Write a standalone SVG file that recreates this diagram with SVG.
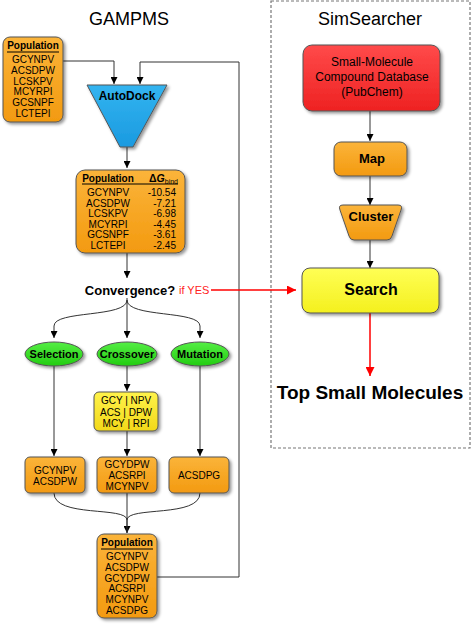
<svg xmlns="http://www.w3.org/2000/svg" width="472" height="626" viewBox="0 0 472 626">
<defs>
<linearGradient id="gOr" x1="0" y1="0" x2="0" y2="1"><stop offset="0" stop-color="#fbb43a"/><stop offset="1" stop-color="#f39a10"/></linearGradient>
<linearGradient id="gGr" x1="0" y1="0" x2="0" y2="1"><stop offset="0" stop-color="#55ee44"/><stop offset="1" stop-color="#22cc11"/></linearGradient>
<linearGradient id="gYe" x1="0" y1="0" x2="0" y2="1"><stop offset="0" stop-color="#fff34a"/><stop offset="1" stop-color="#f2d81a"/></linearGradient>
<linearGradient id="gYe2" x1="0" y1="0" x2="0" y2="1"><stop offset="0" stop-color="#ffff55"/><stop offset="1" stop-color="#f4f01e"/></linearGradient>
<linearGradient id="gRe" x1="0" y1="0" x2="0" y2="1"><stop offset="0" stop-color="#ff4a4a"/><stop offset="1" stop-color="#ee2222"/></linearGradient>
<linearGradient id="gBl" x1="0" y1="0" x2="0" y2="1"><stop offset="0" stop-color="#33b4f0"/><stop offset="1" stop-color="#1a9ae0"/></linearGradient>
<filter id="sh" x="-20%" y="-20%" width="150%" height="150%"><feDropShadow dx="2" dy="2" stdDeviation="1.5" flood-color="#000" flood-opacity="0.4"/></filter>
<marker id="ak" viewBox="0 0 10 10" refX="10" refY="5" markerWidth="7" markerHeight="7" orient="auto" markerUnits="userSpaceOnUse"><path d="M0,0 L10,5 L0,10 z" fill="#000"/></marker>
<marker id="ar" viewBox="0 0 10 10" refX="10" refY="5" markerWidth="9" markerHeight="9" orient="auto" markerUnits="userSpaceOnUse"><path d="M0,0 L10,5 L0,10 z" fill="#ff0000"/></marker>
<style>
text{font-family:"Liberation Sans",Arial,sans-serif;fill:#000}
.t{font-size:10px;text-anchor:middle}
.v{font-size:10px;text-anchor:end}
.h{font-size:10px;font-weight:bold;text-anchor:middle}
.e{font-size:11px;font-weight:bold;text-anchor:middle}
.sn{stroke:#555;stroke-width:1}
.ln{fill:none;stroke:#333;stroke-width:1}
.rl{fill:none;stroke:#ff0000;stroke-width:1.5}
</style>
</defs>
<rect x="271" y="1" width="199" height="447" fill="none" stroke="#777" stroke-width="1.2" stroke-dasharray="3,2"/>
<text x="129" y="25" font-size="18" text-anchor="middle">GAMPMS</text>
<text x="370" y="25" font-size="18" text-anchor="middle">SimSearcher</text>

<g id="connectors">
<path class="ln" d="M63,61 H114 V84" marker-end="url(#ak)"/>
<path class="ln" d="M157,577 H239 V62 H140 V84" marker-end="url(#ak)"/>
<path class="ln" d="M127,147 V168" marker-end="url(#ak)"/>
<path class="ln" d="M127,253 V278" marker-end="url(#ak)"/>
<path class="ln" d="M127,298 V338" marker-end="url(#ak)"/>
<path class="ln" d="M127,300 C127,318 54,310 54,326 V338" marker-end="url(#ak)"/>
<path class="ln" d="M127,300 C127,318 200,310 200,326 V338" marker-end="url(#ak)"/>
<path class="ln" d="M127,366 V391" marker-end="url(#ak)"/>
<path class="ln" d="M127,431 V456" marker-end="url(#ak)"/>
<path class="ln" d="M54,366 V456" marker-end="url(#ak)"/>
<path class="ln" d="M200,366 V456" marker-end="url(#ak)"/>
<path class="ln" d="M54,493 C54,518 127,506 127,520 V533" marker-end="url(#ak)"/>
<path class="ln" d="M200,493 C200,518 127,506 127,520"/>
<path class="ln" d="M127,493 V533"/>
<path class="rl" d="M211,290 H296" marker-end="url(#ar)"/>
<path class="ln" d="M370,111 V141" marker-end="url(#ak)"/>
<path class="ln" d="M370,176 V205" marker-end="url(#ak)"/>
<path class="ln" d="M370,240 V268" marker-end="url(#ak)"/>
<path class="rl" d="M370,313 V376" marker-end="url(#ar)"/>
</g>

<g id="pop1">
<rect x="3" y="37" width="60" height="85" rx="7" fill="url(#gOr)" class="sn" filter="url(#sh)"/>
<text x="33" y="49" class="h">Population</text>
<line x1="7" y1="52" x2="59" y2="52" stroke="#000" stroke-width="1"/>
<text class="t" x="33" y="63">GCYNPV</text>
<text class="t" x="33" y="73.8">ACSDPW</text>
<text class="t" x="33" y="84.6">LCSKPV</text>
<text class="t" x="33" y="95.4">MCYRPI</text>
<text class="t" x="33" y="106.2">GCSNPF</text>
<text class="t" x="33" y="117">LCTEPI</text>
</g>

<g id="autodock">
<path d="M87,85 L167,85 L133,147 L120,147 Z" fill="url(#gBl)" class="sn" filter="url(#sh)"/>
<text x="127" y="100" font-size="12" font-weight="bold" text-anchor="middle">AutoDock</text>
</g>

<g id="pop2">
<rect x="76" y="170" width="109" height="83" rx="9" fill="url(#gOr)" class="sn" filter="url(#sh)"/>
<text x="108" y="182" class="h">Population</text>
<text x="178" y="182" font-size="10.5" font-weight="bold" text-anchor="end">Δ<tspan font-style="italic">G</tspan><tspan font-size="7" font-weight="normal" dy="2">bind</tspan></text>
<line x1="82" y1="184" x2="178" y2="184" stroke="#000" stroke-width="1"/>
<text class="t" x="108" y="196">GCYNPV</text>
<text class="t" x="108" y="206.6">ACSDPW</text>
<text class="t" x="108" y="217.2">LCSKPV</text>
<text class="t" x="108" y="227.8">MCYRPI</text>
<text class="t" x="108" y="238.4">GCSNPF</text>
<text class="t" x="108" y="249">LCTEPI</text>
<text class="v" x="176" y="196">-10.54</text>
<text class="v" x="176" y="206.6">-7.21</text>
<text class="v" x="176" y="217.2">-6.98</text>
<text class="v" x="176" y="227.8">-4.45</text>
<text class="v" x="176" y="238.4">-3.61</text>
<text class="v" x="176" y="249">-2.45</text>
</g>

<g id="convergence">
<text x="130" y="295" font-size="13" font-weight="bold" text-anchor="middle">Convergence?</text>
<text x="179" y="294" font-size="11" style="fill:#ff2222">if YES</text>
</g>

<g id="selection">
<ellipse cx="54" cy="354" rx="29" ry="12" fill="url(#gGr)" class="sn" filter="url(#sh)"/>
<text x="54" y="358" class="e">Selection</text>
</g>
<g id="crossover">
<ellipse cx="127" cy="354" rx="30" ry="12" fill="url(#gGr)" class="sn" filter="url(#sh)"/>
<text x="127" y="358" class="e">Crossover</text>
</g>
<g id="mutation">
<ellipse cx="200" cy="354" rx="29" ry="12" fill="url(#gGr)" class="sn" filter="url(#sh)"/>
<text x="200" y="358" class="e">Mutation</text>
</g>

<g id="xover-box">
<rect x="94" y="392" width="64" height="39" rx="5" fill="url(#gYe)" class="sn" filter="url(#sh)"/>
<text class="t" x="126" y="404">GCY | NPV</text>
<text class="t" x="126" y="415.5">ACS | DPW</text>
<text class="t" x="126" y="427">MCY | RPI</text>
</g>

<g id="sel-out">
<rect x="25" y="457" width="60" height="36" rx="5" fill="url(#gOr)" class="sn" filter="url(#sh)"/>
<text class="t" x="55" y="474">GCYNPV</text>
<text class="t" x="55" y="485">ACSDPW</text>
</g>
<g id="xover-out">
<rect x="97" y="457" width="60" height="36" rx="5" fill="url(#gOr)" class="sn" filter="url(#sh)"/>
<text class="t" x="127" y="468">GCYDPW</text>
<text class="t" x="127" y="479">ACSRPI</text>
<text class="t" x="127" y="490">MCYNPV</text>
</g>
<g id="mut-out">
<rect x="169" y="457" width="60" height="36" rx="5" fill="url(#gOr)" class="sn" filter="url(#sh)"/>
<text class="t" x="199" y="479">ACSDPG</text>
</g>

<g id="pop3">
<rect x="97" y="534" width="60" height="84" rx="7" fill="url(#gOr)" class="sn" filter="url(#sh)"/>
<text x="127" y="546" class="h">Population</text>
<line x1="101" y1="549" x2="153" y2="549" stroke="#000" stroke-width="1"/>
<text class="t" x="127" y="560">GCYNPV</text>
<text class="t" x="127" y="570.8">ACSDPW</text>
<text class="t" x="127" y="581.6">GCYDPW</text>
<text class="t" x="127" y="592.4">ACSRPI</text>
<text class="t" x="127" y="603.2">MCYNPV</text>
<text class="t" x="127" y="614">ACSDPG</text>
</g>

<g id="database">
<rect x="303" y="45" width="137" height="66" rx="9" fill="url(#gRe)" class="sn" filter="url(#sh)"/>
<text x="372" y="66" font-size="12" text-anchor="middle">Small-Molecule</text>
<text x="372" y="81" font-size="12" text-anchor="middle">Compound Database</text>
<text x="372" y="96" font-size="12" text-anchor="middle">(PubChem)</text>
</g>
<g id="map">
<rect x="334" y="142" width="73" height="34" rx="7" fill="url(#gOr)" class="sn" filter="url(#sh)"/>
<text x="372" y="163" font-size="13" font-weight="bold" text-anchor="middle">Map</text>
</g>
<g id="cluster">
<path d="M343,205 L398,205 Q403,205 401,210 L392,236 Q391,240 387,240 L354,240 Q350,240 349,236 L340,210 Q338,205 343,205 Z" fill="url(#gOr)" class="sn" filter="url(#sh)"/>
<text x="371" y="221" font-size="13" font-weight="bold" text-anchor="middle">Cluster</text>
</g>
<g id="search">
<rect x="302" y="268" width="137" height="45" rx="8" fill="url(#gYe2)" class="sn" filter="url(#sh)"/>
<text x="371" y="295" font-size="16" font-weight="bold" text-anchor="middle">Search</text>
</g>
<g id="top">
<text x="370" y="399" font-size="19" font-weight="bold" text-anchor="middle">Top Small Molecules</text>
</g>
</svg>
